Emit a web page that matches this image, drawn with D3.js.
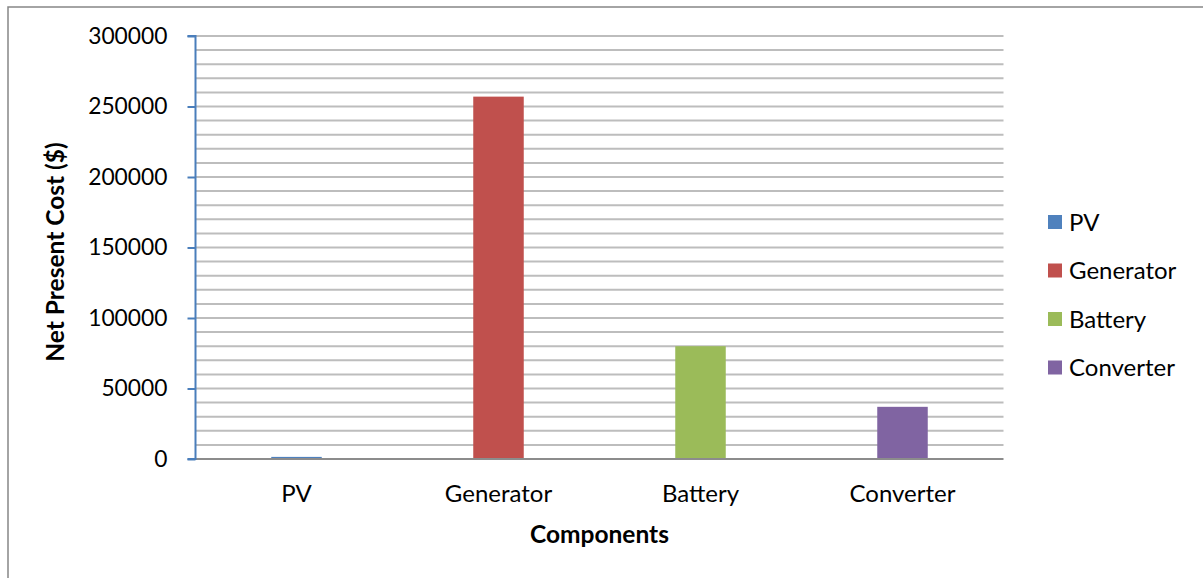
<!DOCTYPE html>
<html>
<head>
<meta charset="utf-8">
<script src="https://cdn.jsdelivr.net/npm/d3@7/dist/d3.min.js"></script>
<style>
  html, body { margin: 0; padding: 0; background: #fff; }
  svg { display: block; }
  text { font-family: Lato, "Open Sans", sans-serif; fill: #000; }
</style>
</head>
<body>
<svg id="chart" width="1203" height="578"></svg>
<script>
// Net present cost per system component
const categories = ["PV", "Generator", "Battery", "Converter"];
const values = [1500, 257000, 80000, 37000];
const colors = ["#4f81bd", "#c0504d", "#9bbb59", "#8064a2"];
const yTicks = [0, 50000, 100000, 150000, 200000, 250000, 300000];

const svg = d3.select("#chart");
const W = 1203, H = 578;
const plot = { left: 195.5, right: 1003.5, top: 36, bottom: 459 };

// outer chart frame (left and top edges visible)
svg.append("rect")
  .attr("x", 8).attr("y", 7)
  .attr("width", W + 10).attr("height", H + 10)
  .attr("fill", "#fff").attr("stroke", "#868686").attr("stroke-width", 1.5);

const x = d3.scaleBand().domain(categories).range([plot.left, plot.right]).paddingInner(0).paddingOuter(0);
const y = d3.scaleLinear().domain([0, 300000]).range([plot.bottom, plot.top]);

// gridlines every 10000
const gridVals = d3.range(10000, 300001, 10000);
svg.append("g").selectAll("line").data(gridVals).join("line")
  .attr("x1", plot.left).attr("x2", plot.right)
  .attr("y1", d => y(d)).attr("y2", d => y(d))
  .attr("stroke", "#bdbdbd").attr("stroke-width", 2);

// bars
const barW = x.bandwidth() * 0.25;
svg.append("g").selectAll("rect").data(categories).join("rect")
  .attr("x", d => x(d) + (x.bandwidth() - barW) / 2)
  .attr("width", barW)
  .attr("y", (d, i) => y(values[i]))
  .attr("height", (d, i) => y(0) - y(values[i]))
  .attr("fill", (d, i) => colors[i]);

// x axis baseline
svg.append("line")
  .attr("x1", plot.left).attr("x2", plot.right)
  .attr("y1", y(0)).attr("y2", y(0))
  .attr("stroke", "#8c8c8c").attr("stroke-width", 2);

// y axis
const yAxis = d3.axisLeft(y).tickValues(yTicks).tickSize(8).tickPadding(20).tickFormat(d3.format("d"));
const gy = svg.append("g").attr("transform", `translate(${plot.left},0)`).call(yAxis);
gy.select(".domain").attr("stroke", "#4a7ebb").attr("stroke-width", 2).attr("d", `M-8,${plot.top}H0V${plot.bottom}H-8`);
gy.selectAll(".tick line").attr("stroke", "#4a7ebb").attr("stroke-width", 2);
gy.selectAll(".tick text").attr("font-size", 22.8).attr("font-family", "Lato, sans-serif").attr("fill", "#000");

// x axis labels
const xAxis = d3.axisBottom(x).tickSize(0).tickPadding(26);
const gx = svg.append("g").attr("transform", `translate(0,${plot.bottom})`).call(xAxis);
gx.select(".domain").remove();
gx.selectAll(".tick text").attr("font-size", 24).attr("font-family", "Lato, sans-serif").attr("fill", "#000");

// axis titles
svg.append("text")
  .attr("x", (plot.left + plot.right) / 2).attr("y", 543)
  .attr("text-anchor", "middle").attr("font-weight", "bold").attr("font-size", 24.5)
  .text("Components");

svg.append("text")
  .attr("transform", `translate(64,252) rotate(-90)`)
  .attr("text-anchor", "middle").attr("font-weight", "bold").attr("font-size", 24.5)
  .text("Net Present Cost ($)");

// legend
const legend = svg.append("g").attr("transform", "translate(1048,215)");
const item = legend.selectAll("g").data(categories).join("g")
  .attr("transform", (d, i) => `translate(0,${i * 48.5})`);
item.append("rect").attr("width", 14).attr("height", 14).attr("fill", (d, i) => colors[i]);
item.append("text").attr("x", 21).attr("y", 7).attr("dy", "0.36em")
  .attr("font-size", 24).text(d => d);
</script>
</body>
</html>
